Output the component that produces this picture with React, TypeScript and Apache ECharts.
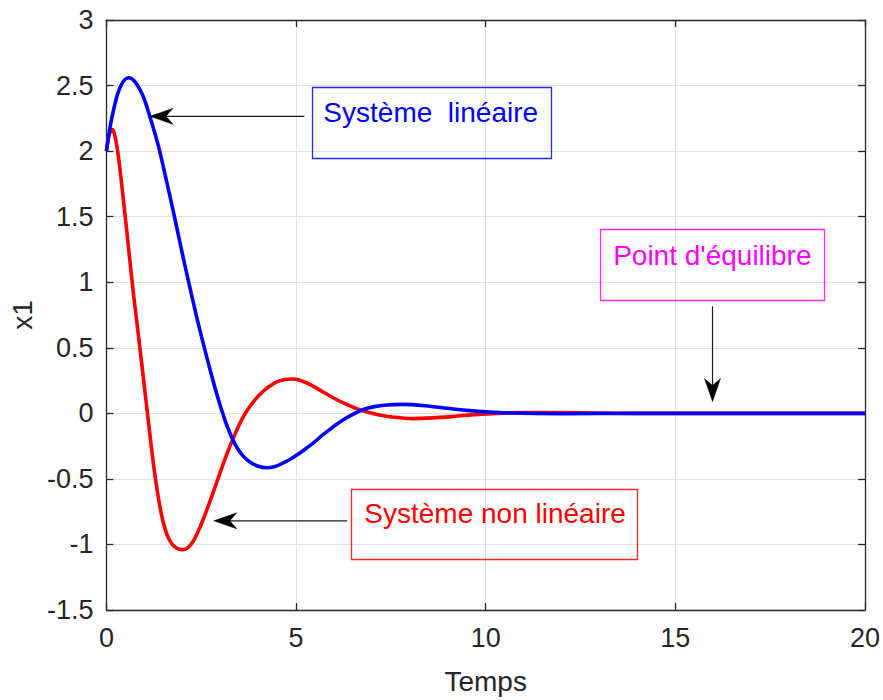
import React, { useEffect, useRef } from "react";
import * as echarts from "echarts";

// Non-linear system (red)
const redT = [0, 0.06, 0.12, 0.165, 0.22, 0.28, 0.35, 0.42, 0.5, 0.58, 0.66, 0.75, 0.85, 0.95, 1.05, 1.15, 1.25, 1.35, 1.45, 1.55, 1.65, 1.77, 1.9, 2.03, 2.15, 2.29, 2.42, 2.55, 2.7, 2.85, 3.0, 3.15, 3.3, 3.45, 3.6, 3.8, 4.0, 4.2, 4.45, 4.7, 4.9, 5.1, 5.4, 5.7, 6.0, 6.32, 6.6, 6.9, 7.2, 7.6, 8.07, 8.6, 9.1, 9.6, 10.2, 11.1, 12.5, 14, 20];
const redV = [2.0, 2.11, 2.16, 2.165, 2.12, 2.03, 1.88, 1.7, 1.49, 1.27, 1.05, 0.82, 0.58, 0.33, 0.08, -0.17, -0.41, -0.61, -0.77, -0.885, -0.96, -1.01, -1.035, -1.04, -1.025, -0.975, -0.9, -0.81, -0.695, -0.575, -0.45, -0.33, -0.22, -0.12, -0.03, 0.06, 0.13, 0.185, 0.235, 0.258, 0.262, 0.252, 0.215, 0.165, 0.115, 0.07, 0.035, 0.008, -0.012, -0.03, -0.04, -0.035, -0.025, -0.012, -0.002, 0.006, 0.005, 0, 0];

// Linear system (blue)
const blueT = [0, 0.1, 0.2, 0.3, 0.4, 0.5, 0.6, 0.7, 0.8, 0.9, 1.0, 1.15, 1.37, 1.59, 1.8, 2.0, 2.2, 2.4, 2.6, 2.8, 3.0, 3.2, 3.4, 3.6, 3.8, 4.0, 4.22, 4.45, 4.65, 4.85, 5.09, 5.3, 5.5, 5.7, 5.9, 6.1, 6.3, 6.5, 6.7, 6.9, 7.1, 7.4, 7.8, 8.4, 9.1, 9.8, 10.7, 12, 14, 20];
const blueV = [2.0, 2.19, 2.33, 2.44, 2.51, 2.55, 2.56, 2.545, 2.51, 2.46, 2.395, 2.26, 2.04, 1.765, 1.49, 1.22, 0.96, 0.71, 0.48, 0.26, 0.06, -0.11, -0.24, -0.325, -0.375, -0.403, -0.415, -0.405, -0.38, -0.35, -0.305, -0.26, -0.215, -0.165, -0.12, -0.078, -0.04, -0.008, 0.02, 0.04, 0.053, 0.064, 0.068, 0.058, 0.035, 0.015, 0.002, -0.003, 0, 0];

const xTicks = { min: 0, max: 20, interval: 5 };
const yTicks = { min: -1.5, max: 3, interval: 0.5 };

const xLabel = "Temps";
const yLabel = "x1";

// Annotations, anchored in data coordinates
const annotations = [
  {
    text: "Système  linéaire",
    color: "#0000ff",
    box: [5.41, 2.49, 11.71, 1.95],
    textAt: [5.72, 2.292],
    arrowFrom: [5.22, 2.265],
    arrowTo: [1.15, 2.265],
  },
  {
    text: "Système non linéaire",
    color: "#ff0000",
    box: [6.46, -0.574, 13.99, -1.11],
    textAt: [6.8, -0.767],
    arrowFrom: [6.35, -0.82],
    arrowTo: [2.83, -0.82],
  },
  {
    text: "Point d'équilibre",
    color: "#ff00ff",
    box: [13.02, 1.405, 18.92, 0.861],
    textAt: [13.36, 1.205],
    arrowFrom: [15.98, 0.816],
    arrowTo: [15.98, 0.09],
  },
];

const FONT = '"Liberation Sans", Arial, Helvetica, sans-serif';
const AX = "#262626";
const GRID = "#e2e2e2";

export default function App() {
  const ref = useRef<HTMLDivElement>(null);

  useEffect(() => {
    if (!ref.current) return;
    const chart = echarts.init(ref.current, null, { renderer: "svg" });

    const baseAxis = {
      type: "value" as const,
      axisLine: { show: true, onZero: false, lineStyle: { color: AX, width: 1.3 } },
      axisTick: { show: true, inside: true, length: 7, lineStyle: { color: AX, width: 1.3 } },
    };

    chart.setOption({
      animation: false,
      backgroundColor: "#ffffff",
      textStyle: { fontFamily: FONT },
      grid: { left: 106, right: 15, top: 20, bottom: 84, containLabel: false },
      xAxis: [
        {
          ...baseAxis,
          ...xTicks,
          position: "bottom",
          axisLabel: { color: AX, fontSize: 27, margin: 14, fontFamily: FONT },
          splitLine: { show: true, lineStyle: { color: GRID, width: 1 } },
          name: xLabel,
          nameLocation: "middle",
          nameGap: 57,
          nameTextStyle: { color: AX, fontSize: 28, fontFamily: FONT },
        },
        {
          ...baseAxis,
          ...xTicks,
          position: "top",
          axisLabel: { show: false },
          splitLine: { show: false },
        },
      ],
      yAxis: [
        {
          ...baseAxis,
          ...yTicks,
          position: "left",
          axisLabel: { color: AX, fontSize: 27, margin: 13, fontFamily: FONT },
          splitLine: { show: true, lineStyle: { color: GRID, width: 1 } },
          name: yLabel,
          nameLocation: "middle",
          nameGap: 69,
          nameTextStyle: { color: AX, fontSize: 28, fontFamily: FONT },
        },
        {
          ...baseAxis,
          ...yTicks,
          position: "right",
          axisLabel: { show: false },
          splitLine: { show: false },
        },
      ],
      series: [
        {
          type: "line",
          name: "Système non linéaire",
          data: redT.map((t, i) => [t, redV[i]]),
          showSymbol: false,
          smooth: 0.3,
          lineStyle: { color: "#ff0000", width: 3.6 },
          xAxisIndex: 0,
          yAxisIndex: 0,
        },
        {
          type: "line",
          name: "Système linéaire",
          data: blueT.map((t, i) => [t, blueV[i]]),
          showSymbol: false,
          smooth: 0.3,
          lineStyle: { color: "#0000ff", width: 3.6 },
          xAxisIndex: 0,
          yAxisIndex: 0,
        },
      ],
    });

    const px = (p: number[]) => chart.convertToPixel({ seriesIndex: 0 }, p) as number[];
    const graphics: any[] = [];
    annotations.forEach((a) => {
      const p1 = px([a.box[0], a.box[1]]);
      const p2 = px([a.box[2], a.box[3]]);
      const x0 = Math.round(p1[0]) + 0.5;
      const y0 = Math.round(p1[1]) + 0.5;
      const x1 = Math.round(p2[0]) + 0.5;
      const y1 = Math.round(p2[1]) + 0.5;
      graphics.push({
        type: "rect",
        shape: { x: x0, y: y0, width: x1 - x0, height: y1 - y0 },
        style: { fill: "transparent", stroke: a.color, lineWidth: 1.3, opacity: 0.85 },
        z: 100,
      });
      const tp = px(a.textAt);
      graphics.push({
        type: "text",
        x: tp[0],
        y: tp[1],
        style: {
          text: a.text,
          fill: a.color,
          fontSize: 28,
          fontFamily: FONT,
          align: "left",
          verticalAlign: "middle",
        },
        z: 100,
      });
      const f = px(a.arrowFrom);
      const t = px(a.arrowTo);
      const dx = t[0] - f[0];
      const dy = t[1] - f[1];
      const len = Math.hypot(dx, dy);
      const ux = dx / len;
      const uy = dy / len;
      const nx = -uy;
      const ny = ux;
      const L = 23;
      const W = 8;
      const N = 16;
      const back = [t[0] - ux * L, t[1] - uy * L];
      const notch = [t[0] - ux * N, t[1] - uy * N];
      graphics.push({
        type: "line",
        shape: { x1: f[0], y1: f[1], x2: notch[0], y2: notch[1] },
        style: { stroke: "#1a1a1a", lineWidth: 1.2 },
        z: 100,
      });
      graphics.push({
        type: "polygon",
        shape: {
          points: [
            [t[0], t[1]],
            [back[0] + nx * W, back[1] + ny * W],
            [notch[0], notch[1]],
            [back[0] - nx * W, back[1] - ny * W],
          ],
        },
        style: { fill: "#000000", stroke: "#000000", lineWidth: 0.5 },
        z: 100,
      });
    });
    chart.setOption({ graphic: graphics });

    return () => chart.dispose();
  }, []);

  return (
    <div
      ref={ref}
      style={{ position: "fixed", left: 0, top: 0, width: 883, height: 700, background: "#fff" }}
    />
  );
}
